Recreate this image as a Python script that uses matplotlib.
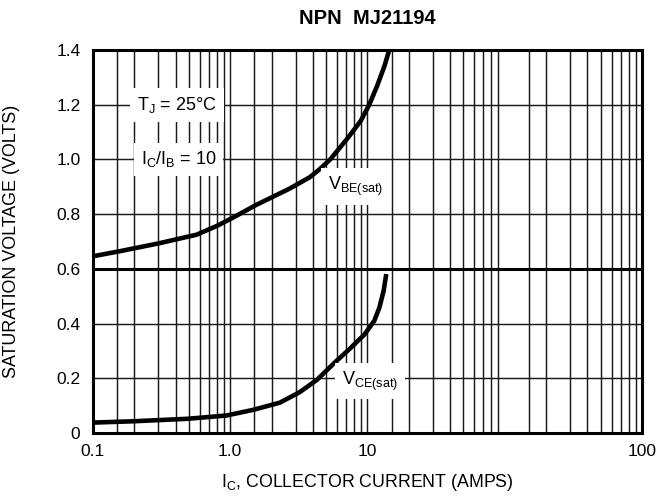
import matplotlib
matplotlib.use("Agg")
import matplotlib.pyplot as plt

plt.rcParams['font.family'] = ['Liberation Sans', 'DejaVu Sans']
plt.rcParams['mathtext.fontset'] = 'custom'
plt.rcParams['mathtext.rm'] = 'Liberation Sans'

# V_BE(sat) curve
ic_vbe = [0.1, 0.155, 0.30, 0.57, 0.80, 1.1, 1.55, 2.7, 3.8, 4.5, 5.35, 7.1, 8.9, 10.3, 11.8, 13.3, 14.4]
vbe = [0.646, 0.664, 0.693, 0.725, 0.757, 0.793, 0.834, 0.893, 0.935, 0.965, 1.0, 1.075, 1.14, 1.2, 1.271, 1.342, 1.4]

# V_CE(sat) curve
ic_vce = [0.1, 0.2, 0.49, 0.94, 1.48, 2.3, 3.2, 4.3, 5.7, 7.5, 9.5, 11.2, 12.2, 13.1, 13.7]
vce = [0.038, 0.043, 0.052, 0.064, 0.085, 0.111, 0.149, 0.195, 0.255, 0.31, 0.36, 0.41, 0.458, 0.519, 0.581]

x_ticks = [0.1, 1, 10, 1000]
x_ticklabels = ['0.1', '1.0', '10', '100']
y_ticks = [0, 0.2, 0.4, 0.6, 0.8, 1.0, 1.2, 1.4]
y_ticklabels = ['0', '0.2', '0.4', '0.6', '0.8', '1.0', '1.2', '1.4']

fig = plt.figure(figsize=(6.66, 5.0), dpi=100)
ax = fig.add_axes([0.1396, 0.134, 0.8244, 0.766])
ax.set_xscale('log')
ax.set_xlim(0.1, 1000)
ax.set_ylim(0, 1.4)

# grid: log lines (with the extra 1.5 line per decade); the 100 line is absent in the original
grid_x = []
for dec in [0.1, 1, 10, 100]:
    for k in [1, 1.5, 2, 3, 4, 5, 6, 7, 8, 9]:
        v = k * dec
        if v in (0.1, 100):
            continue
        grid_x.append(v)
for v in grid_x:
    ax.axvline(v, color='0.1', lw=1.05, zorder=1)
for v in [0.2, 0.4, 0.8, 1.0, 1.2]:
    ax.axhline(v, color='0.1', lw=1.05, zorder=1)
ax.axhline(0.6, color='black', lw=2.2, zorder=1)

ax.plot(ic_vbe, vbe, color='black', lw=3.3, solid_capstyle='butt', solid_joinstyle='round', zorder=3)
ax.plot(ic_vce, vce, color='black', lw=3.3, solid_capstyle='butt', solid_joinstyle='round', zorder=3)

box = dict(facecolor='white', edgecolor='none', pad=5)
ax.text(0.41, 1.2, r'T$_{\rm J}$ = 25°C', fontsize=13, ha='center', va='center', bbox=box, zorder=4)
ax.text(0.42, 1.0, r'I$_{\rm C}$/I$_{\rm B}$ = 10', fontsize=13, ha='center', va='center', bbox=box, zorder=4)
ax.text(8.2, 0.9, r'V$_{\rm BE(sat)}$', fontsize=13, ha='center', va='center', bbox=box, zorder=4)
ax.text(10.4, 0.19, r'V$_{\rm CE(sat)}$', fontsize=13, ha='center', va='center', bbox=box, zorder=4)

ax.set_xticks(x_ticks)
ax.set_xticklabels(x_ticklabels)
ax.xaxis.set_minor_locator(matplotlib.ticker.NullLocator())
ax.set_yticks(y_ticks)
ax.set_yticklabels(y_ticklabels)
ax.tick_params(length=0, labelsize=12.5)
ax.tick_params(axis='x', pad=8)
ax.tick_params(axis='y', pad=9)

for s in ax.spines.values():
    s.set_linewidth(2.2)
    s.set_zorder(5)

ax.set_xlabel(r'I$_{\rm C}$, COLLECTOR CURRENT (AMPS)', fontsize=12.8)
ax.xaxis.set_label_coords(0.5, -0.128)
ax.xaxis.label.set_va('center')
ax.set_ylabel('SATURATION VOLTAGE (VOLTS)', fontsize=12.9)
ax.yaxis.set_label_coords(-0.1475, 0.5)
ax.yaxis.label.set_va('center')
fig.text(0.552, 0.964, 'NPN  MJ21194', fontsize=14.5, fontweight='bold', ha='center', va='center')

fig.savefig('out.png', dpi=100)
